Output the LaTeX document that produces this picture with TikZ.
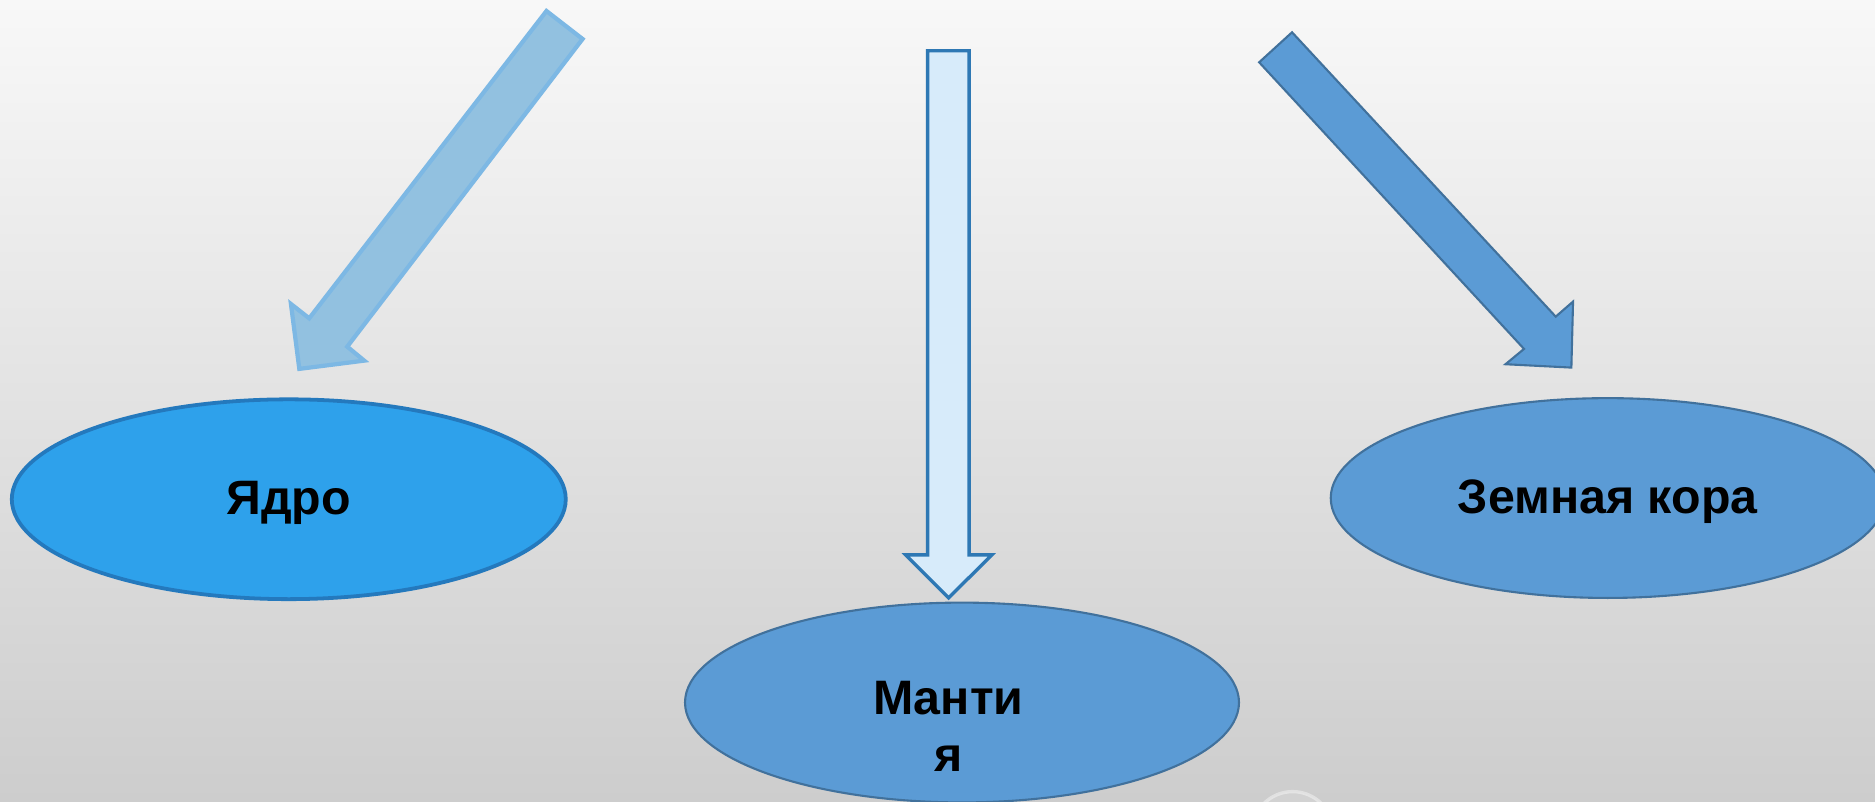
\documentclass[tikz,border=0pt]{standalone}
\usepackage{fontspec}
\setmainfont{Liberation Sans}
\usetikzlibrary{shapes.geometric}

\definecolor{coreblue}{HTML}{2EA1EB}
\definecolor{coreline}{HTML}{2479BD}
\definecolor{shellblue}{HTML}{5B9BD5}
\definecolor{shellline}{HTML}{41719C}
\definecolor{paleblue}{HTML}{92C1E0}
\definecolor{paleline}{HTML}{7DB8E4}
\definecolor{iceblue}{HTML}{D7EBFA}
\definecolor{iceline}{HTML}{2E78B4}

\tikzset{
	layer/.style={ellipse, draw=shellline, fill=shellblue, line width=0.5pt, minimum width=4.63cm, minimum height=1.67cm, inner sep=0pt},
	layertext/.style={font=\fontsize{11.5}{13.5}\selectfont\bfseries, align=center, inner sep=0pt},
}

\begin{document}
\begin{tikzpicture}[x=0.01cm, y=-0.01cm]
			%%%%% START %%%%%
			
			\useasboundingbox (0, 0) rectangle (1568, 670.6);
			\shade[top color={rgb,255:red,248;green,248;blue,248}, middle color={rgb,255:red,233;green,233;blue,233}, bottom color={rgb,255:red,205;green,205;blue,205}] (0, 0) rectangle (1568, 670.6);
			
			% faint round button at the bottom edge
			\draw[white, line width=0.8pt, opacity=0.4, fill=white, fill opacity=0.1] (1081, 696) circle (34);
			
			% block arrows
			\draw[line width=1pt, draw=paleline, fill=paleblue] (457, 9.2) -- (487.2, 32.6) -- (290.4, 289.9) -- (304.6, 301.6) -- (250.3, 308.5) -- (243.3, 254.2) -- (258.6, 266.2) -- cycle;
			\draw[line width=0.8pt, draw=iceline, fill=iceblue] (775.7, 42.4) -- (810.4, 42.4) -- (810.4, 464) -- (829.5, 464) -- (793.3, 500) -- (757.3, 464) -- (775.7, 464) -- cycle;
			\draw[line width=0.5pt, draw=shellline, fill=shellblue] (1080.5, 27) -- (1301, 264.8) -- (1315.5, 252.2) -- (1314.1, 307.4) -- (1259, 304.6) -- (1274.5, 291.8) -- (1053, 52.1) -- cycle;
			
			% the three layers
			\node[layer, draw=coreline, fill=coreblue, line width=0.9pt] (core) at (241.5, 417.5) {};
			\node[layertext] (coretext) at ([yshift=-0.03cm]core.center) {Ядро};
			
			\node[layer] (mantle) at (804.5, 587.5) {};
			\node[layertext, anchor=north] (mantletext) at (793, 569) {Манти\\я};
			
			\node[layer] (crust) at (1344.5, 416.5) {};
			\node[layertext] (crusttext) at ([yshift=-0.03cm]crust.center) {Земная кора};
			
			%%%%% END %%%%%
\end{tikzpicture}
\end{document}
